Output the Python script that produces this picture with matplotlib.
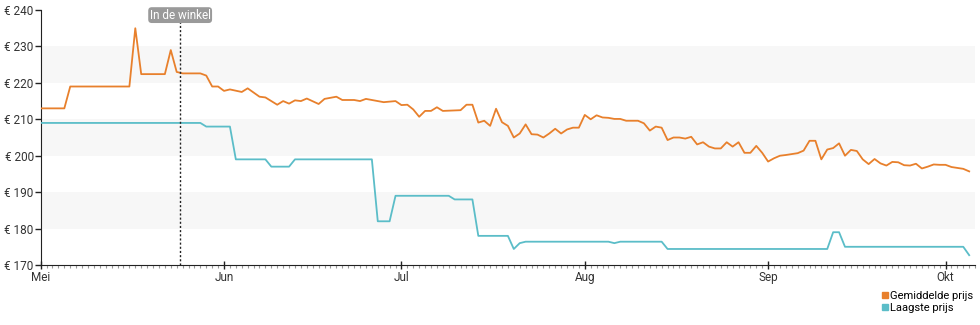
import pandas as pd
import matplotlib.pyplot as plt
import matplotlib.dates as mdates
from matplotlib.ticker import FuncFormatter

plt.rcParams['font.family'] = ['Roboto', 'DejaVu Sans']

year = "2023-"

# Gemiddelde prijs (average price)
avg_dates = ["05-01", "05-05", "05-06", "05-16", "05-17", "05-18", "05-22", "05-23", "05-24", "05-25",
             "05-28", "05-29", "05-30", "05-31", "06-01", "06-02", "06-04", "06-05", "06-07", "06-08",
             "06-10", "06-11", "06-12", "06-13", "06-14", "06-15", "06-17", "06-18", "06-20", "06-21",
             "06-23", "06-24", "06-25", "06-26", "06-28", "06-30", "07-01", "07-02", "07-03", "07-04",
             "07-05", "07-06", "07-07", "07-08", "07-11", "07-12", "07-13", "07-14", "07-15", "07-16",
             "07-17", "07-18", "07-19", "07-20", "07-21", "07-22", "07-23", "07-24", "07-25", "07-26",
             "07-27", "07-28", "07-29", "07-30", "07-31", "08-01", "08-02", "08-03", "08-04", "08-05",
             "08-06", "08-07", "08-08", "08-10", "08-11", "08-12", "08-13", "08-14", "08-15", "08-16",
             "08-17", "08-18", "08-19", "08-20", "08-21", "08-22", "08-23", "08-24", "08-25", "08-26",
             "08-27", "08-28", "08-29", "08-30", "08-31", "09-01", "09-02", "09-03", "09-04", "09-06",
             "09-07", "09-08", "09-09", "09-10", "09-11", "09-12", "09-13", "09-14", "09-15", "09-16",
             "09-17", "09-18", "09-19", "09-20", "09-21", "09-22", "09-23", "09-24", "09-25", "09-26",
             "09-27", "09-28", "09-29", "09-30", "10-01", "10-02", "10-04", "10-05"]
avg_prices = [213, 213, 219, 219, 235, 222.4, 222.4, 229, 223, 222.6,
               222.6, 222, 219, 219, 217.8, 218.2, 217.5, 218.5, 216.2, 216,
               214, 215, 214.3, 215.2, 215, 215.7, 214.2, 215.6, 216.2, 215.3,
               215.3, 215, 215.6, 215.3, 214.7, 215, 213.9, 214, 212.7, 210.7,
               212.3, 212.3, 213.3, 212.3, 212.5, 214, 214, 209.1, 209.6, 208.2,
               212.9, 209.2, 208.2, 205, 206.1, 208.6, 205.9, 205.8, 205, 206.1,
               207.4, 206.1, 207.2, 207.7, 207.7, 211.2, 210, 211.1, 210.5, 210.4,
               210.1, 210.1, 209.6, 209.6, 208.9, 206.9, 208, 207.7, 204.3, 205,
               205, 204.7, 205.2, 203.1, 203.7, 202.5, 202, 202, 203.7, 202.5,
               203.7, 200.8, 200.8, 202.7, 200.8, 198.4, 199.3, 200, 200.2, 200.7,
               201.4, 204.1, 204.1, 199, 201.7, 202.1, 203.4, 200, 201.6, 201.3,
               199, 197.7, 199.1, 197.9, 197.3, 198.3, 198.2, 197.4, 197.3, 197.8,
               196.5, 197, 197.6, 197.5, 197.5, 196.9, 196.4, 195.7]

# Laagste prijs (lowest price)
low_dates = ["05-01", "05-28", "05-29", "06-02", "06-03", "06-08", "06-09", "06-12", "06-13", "06-26",
             "06-27", "06-29", "06-30", "07-09", "07-10", "07-13", "07-14", "07-19", "07-20", "07-21",
             "07-22", "08-05", "08-06", "08-07", "08-14", "08-15", "09-11", "09-12", "09-13", "09-14",
             "10-04", "10-05"]
low_prices = [209, 209, 208, 208, 199, 199, 197, 197, 199, 199,
              182, 182, 189, 189, 188, 188, 178, 178, 174.4, 176,
              176.4, 176.4, 176, 176.4, 176.4, 174.4, 174.4, 179, 179, 175,
              175, 172.7]

month_labels = ["Mei", "Jun", "Jul", "Aug", "Sep", "Okt"]
store_date = "2023-05-24 14:00"

avg_x = pd.to_datetime([year + d for d in avg_dates])
low_x = pd.to_datetime([year + d for d in low_dates])

fig = plt.figure(figsize=(9.8, 3.25), dpi=100)
ax = fig.add_axes([0.0415, 0.1846, 0.9535, 0.7846])

# light background bands
for lo in [180, 200, 220]:
    ax.axhspan(lo, lo + 10, color="#f7f7f7", lw=0, zorder=0)

ax.plot(avg_x, avg_prices, color="#e8802c", lw=1.3, zorder=3)
ax.plot(low_x, low_prices, color="#5bbdc8", lw=1.3, zorder=3)

# store date marker
sd = pd.Timestamp(store_date)
ax.axvline(sd, color="#222222", lw=1, ls=(0, (1.5, 1.5)), zorder=4)
ax.text(sd, 238.6, "In de winkel", ha="center", va="center", fontsize=8.5, color="white", zorder=5,
        bbox=dict(boxstyle="round,pad=0.12,rounding_size=0.3", fc="#9a9a9a", ec="none"))

ax.set_ylim(170, 240)
ax.set_xlim(pd.Timestamp("2023-05-01"), pd.Timestamp("2023-10-06"))
ax.set_yticks(range(170, 241, 10))
ax.yaxis.set_major_formatter(FuncFormatter(lambda v, p: "€ %d" % v))

ax.xaxis.set_major_locator(mdates.MonthLocator())
ax.xaxis.set_major_formatter(FuncFormatter(lambda v, p: month_labels[mdates.num2date(v).month - 5]))
ax.xaxis.set_minor_locator(mdates.DayLocator())

for s in ["top", "right"]:
    ax.spines[s].set_visible(False)
ax.spines["left"].set_color("#222222")
ax.spines["bottom"].set_color("#222222")

ax.tick_params(axis="y", length=4, width=1, pad=1, labelsize=8.5, colors="#222222", labelcolor="#333333")
ax.tick_params(axis="x", which="major", direction="inout", length=6, width=1, pad=1,
               labelsize=8.5, colors="#222222", labelcolor="#333333")
ax.tick_params(axis="x", which="minor", direction="out", length=2, width=0.8, colors="#999999")

# legend below the plot, right side
h1, = ax.plot([], [], "s", color="#e8802c", markersize=4.5)
h2, = ax.plot([], [], "s", color="#5bbdc8", markersize=4.5)
fig.legend([h1, h2], ["Gemiddelde prijs", "Laagste prijs"], loc="upper right",
           bbox_to_anchor=(0.993, 0.104), frameon=False, fontsize=8, handlelength=0.5,
           handletextpad=0.2, labelspacing=0.15, borderpad=0, borderaxespad=0)

fig.savefig("out.png", dpi=100)
